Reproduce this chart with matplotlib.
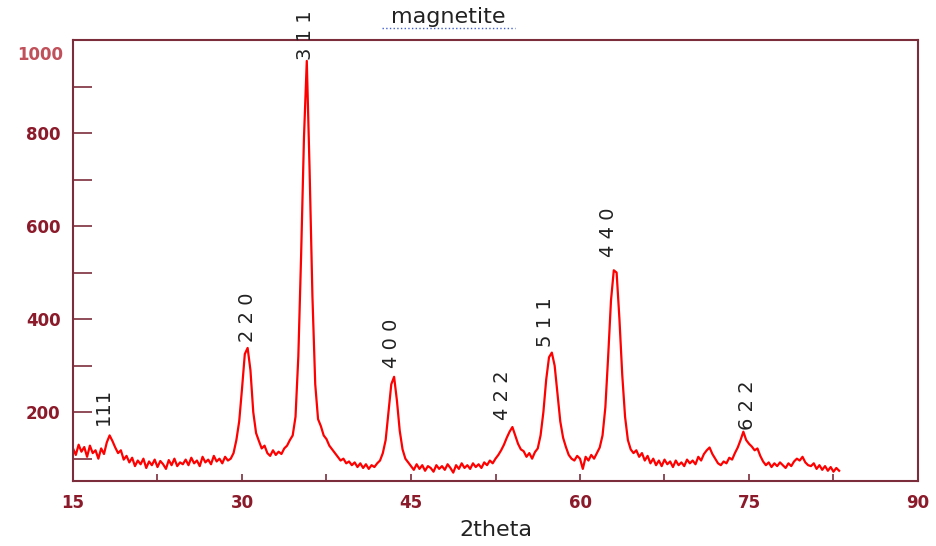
import numpy as np
import matplotlib
matplotlib.use("Agg")
import matplotlib.pyplot as plt
from matplotlib.lines import Line2D

# 2theta grid, 0.25 deg step from 15 to 83
two_theta = np.arange(15.0, 83.001, 0.25)

# intensity, one row per 5 degrees
intensity = [
    122, 108, 130, 115, 125, 104, 128, 112, 118, 100, 122, 110, 135, 150, 138, 124, 112, 118, 98, 106,
    92, 102, 84, 96, 88, 100, 80, 94, 86, 98, 82, 95, 88, 78, 97, 86, 100, 84, 92, 88,
    98, 86, 102, 90, 96, 84, 104, 92, 98, 88, 106, 94, 100, 90, 104, 96, 100, 112, 140, 180,
    250, 325, 338, 290, 200, 155, 138, 122, 128, 112, 106, 118, 108, 115, 110, 122, 128, 140, 150, 190,
    320, 540, 790, 955, 720, 450, 260, 185, 170, 150, 142, 128, 120, 112, 104, 96, 100, 90, 94, 86,
    92, 82, 90, 80, 88, 78, 86, 82, 90, 96, 112, 140, 200, 260, 276, 225, 160, 120, 100, 92,
    84, 76, 88, 78, 86, 74, 84, 80, 72, 86, 78, 84, 76, 88, 80, 70, 86, 78, 90, 80,
    86, 78, 90, 82, 88, 80, 92, 86, 96, 90, 100, 108, 118, 130, 145, 158, 168, 150, 132, 120,
    116, 104, 112, 100, 114, 122, 150, 200, 270, 318, 328, 300, 240, 180, 145, 125, 108, 100, 96, 106,
    100, 78, 104, 96, 108, 100, 112, 124, 150, 210, 320, 440, 505, 500, 400, 280, 190, 140, 120, 112,
    118, 104, 112, 96, 106, 90, 100, 86, 96, 84, 98, 88, 94, 82, 96, 86, 92, 84, 98, 90,
    96, 88, 104, 96, 110, 118, 124, 110, 100, 90, 86, 94, 90, 102, 98, 112, 124, 140, 158, 140,
    132, 126, 118, 122, 106, 94, 86, 92, 82, 90, 84, 92, 86, 80, 90, 84, 94, 100, 96, 104,
    92, 86, 84, 90, 78, 86, 76, 84, 74, 82, 72, 80, 74,
]

# peak indices and where their labels sit
peak_labels = ["111", "2 2 0", "3 1 1", "4 0 0", "4 2 2", "5 1 1", "4 4 0", "6 2 2"]
label_x = [17.7, 30.45, 35.6, 43.3, 53.15, 56.9, 62.5, 74.9]
label_y = [173, 351, 957, 295, 184, 341, 534, 162]

x_ticks = [15, 30, 45, 60, 75, 90]
y_ticks = [200, 400, 600, 800, 1000]

frame = "#7b2d3b"
tick_red = "#8b1a2a"


def main():
    fig = plt.figure(figsize=(9.37, 5.46), dpi=100)
    ax = fig.add_axes([73 / 937, 1 - 481 / 546, 845 / 937, 441 / 546])

    ax.plot(two_theta, intensity, color="#ff0000", lw=1.6)

    ax.set_xlim(15, 90)
    ax.set_ylim(52, 1000)

    ax.set_xticks(x_ticks)
    ax.set_xticks(np.arange(15, 90, 7.5), minor=True)
    ax.set_yticks(y_ticks)
    ax.set_yticks(np.arange(100, 1000, 100), minor=True)
    ax.set_yticklabels(["200", "400", "600", "800", ""])

    ax.tick_params(axis="x", which="both", direction="in", length=5, width=1.2,
                   color=frame, pad=9, labelsize=12, labelcolor=tick_red)
    ax.tick_params(axis="y", which="both", direction="in", length=14, width=1.2,
                   color=frame, pad=9, labelsize=12, labelcolor=tick_red)
    for lab in ax.get_xticklabels() + ax.get_yticklabels():
        lab.set_fontweight("bold")
        lab.set_family("DejaVu Sans")

    # the 1000 label sits a bit lower and lighter in the original
    ax.text(-0.012, 0.965, "1000", transform=ax.transAxes, ha="right", va="center",
            fontsize=12, fontweight="bold", color="#c0505a")

    for s in ax.spines.values():
        s.set_color(frame)
        s.set_linewidth(1.5)

    for txt, xx, yy in zip(peak_labels, label_x, label_y):
        ax.text(xx, yy, txt, rotation=90, ha="center", va="bottom",
                fontsize=14, color="#222222", clip_on=False)

    ax.set_xlabel("2theta", fontsize=16, color="#222222", labelpad=6)

    fig.text(448 / 937, 1 - 17 / 546, "magnetite", ha="center", va="center",
             fontsize=16, color="#222222")
    fig.add_artist(Line2D([382 / 937, 515 / 937], [1 - 28 / 546, 1 - 28 / 546],
                          transform=fig.transFigure, color="#4060d0", lw=1, ls=":"))

    fig.savefig("out.png", dpi=100)


if __name__ == "__main__":
    main()
